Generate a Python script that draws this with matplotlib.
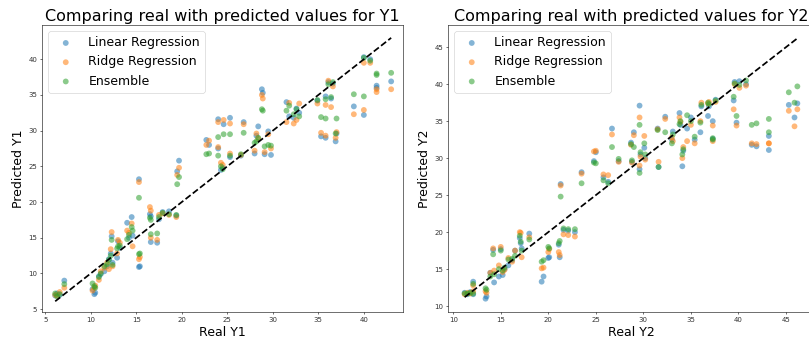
import numpy as np
import matplotlib
matplotlib.use('Agg')
import matplotlib.pyplot as plt

# Y1 (heating load) - real values and predictions
real_y1 = [6.1, 6.3, 6.6, 7.1, 10.2, 10.4, 10.5, 10.9, 11.1, 11.5, 11.8, 12.0, 12.2, 12.3,
           12.4, 12.9, 13.0, 13.2, 14.0, 14.2, 14.5, 14.6, 15.3, 15.3, 15.4, 16.5, 16.6, 16.6,
           17.3, 17.5, 17.9, 18.6, 19.4, 19.5, 19.7, 22.7, 23.0, 24.0, 24.0, 24.3, 24.6, 24.5,
           25.3, 25.3, 26.8, 26.5, 28.0, 28.2, 28.4, 28.8, 28.9, 29.1, 29.5, 29.8, 31.5, 31.8,
           32.3, 32.6, 32.9, 34.9, 35.3, 35.8, 35.8, 36.1, 36.4, 36.6, 36.9, 37.0, 38.9, 40.0,
           40.0, 40.7, 41.4, 41.4, 43.0]
lin_y1 = [6.9, 7.2, 7.0, 9.0, 7.8, 7.1, 7.3, 9.6, 9.9, 10.3, 11.0, 12.0, 12.8, 15.2,
          11.5, 12.2, 14.5, 13.6, 17.1, 15.0, 17.9, 15.3, 23.2, 10.9, 11.0, 18.3, 18.0, 14.4,
          14.3, 17.6, 18.6, 18.7, 18.1, 24.3, 25.8, 28.7, 28.0, 31.6, 27.5, 24.5, 30.9, 24.8,
          31.8, 26.3, 31.2, 26.5, 26.8, 29.3, 30.6, 35.8, 35.3, 26.7, 29.9, 26.6, 34.0, 32.0,
          31.8, 33.1, 32.5, 34.2, 29.2, 29.0, 34.8, 36.8, 34.5, 36.6, 28.5, 29.6, 33.4, 32.2,
          40.3, 40.0, 36.3, 36.0, 36.9]
ridge_y1 = [7.0, 6.9, 7.4, 8.0, 7.6, 8.0, 8.3, 9.1, 10.3, 10.8, 11.5, 10.6, 13.4, 15.8,
            11.0, 12.8, 14.7, 14.3, 16.0, 15.7, 17.0, 13.8, 22.8, 12.0, 12.3, 19.3, 18.8, 15.0,
            14.7, 18.2, 18.4, 18.2, 17.9, 23.8, 24.8, 28.0, 28.6, 31.2, 27.7, 25.5, 31.5, 25.2,
            31.0, 26.8, 30.9, 26.6, 27.2, 29.6, 28.9, 35.0, 34.5, 27.0, 29.5, 27.5, 31.2, 33.9,
            31.0, 31.5, 33.8, 33.8, 29.7, 29.3, 33.6, 37.0, 33.3, 36.2, 29.0, 29.8, 32.3, 32.9,
            39.5, 39.5, 35.4, 35.8, 35.8]
ens_y1 = [7.2, 6.8, 7.1, 8.5, 8.6, 8.2, 8.0, 9.5, 10.0, 11.0, 11.3, 11.9, 12.5, 14.7,
          11.2, 13.5, 13.8, 13.9, 14.8, 15.4, 16.5, 16.0, 20.6, 12.7, 12.8, 17.8, 17.5, 15.5,
          15.6, 17.9, 18.5, 18.3, 18.2, 22.5, 23.5, 26.7, 26.8, 29.1, 26.5, 25.0, 29.5, 24.6,
          29.5, 26.5, 29.7, 26.7, 28.3, 28.5, 29.0, 33.0, 32.8, 27.8, 28.0, 27.9, 32.8, 33.5,
          32.3, 33.0, 32.0, 34.3, 31.9, 31.7, 34.4, 36.5, 34.7, 36.8, 29.6, 31.7, 35.1, 34.8,
          40.2, 39.8, 37.8, 38.0, 38.1]

# Y2 (cooling load) - real values and predictions
real_y2 = [11.2, 11.5, 11.8, 12.1, 12.1, 13.4, 13.5, 13.9, 14.2, 14.3, 14.8, 15.0, 15.2, 15.4,
           15.8, 16.2, 16.5, 17.0, 17.1, 17.2, 18.0, 19.3, 19.5, 20.0, 20.1, 21.1, 21.2, 21.3,
           21.6, 22.1, 22.8, 23.5, 24.8, 25.0, 25.8, 26.3, 26.7, 27.4, 28.7, 28.8, 29.0, 29.6,
           29.6, 29.7, 30.1, 30.2, 31.5, 31.6, 32.3, 33.0, 33.1, 33.8, 33.9, 34.1, 34.2, 34.6,
           35.0, 35.4, 36.0, 36.1, 36.8, 36.9, 37.3, 37.3, 37.6, 39.5, 39.6, 39.8, 40.1, 40.8,
           41.4, 41.9, 43.2, 43.2, 45.3, 45.9, 46.2]
lin_y2 = [11.8, 11.6, 11.9, 13.3, 11.6, 11.0, 11.3, 14.5, 17.6, 13.2, 14.0, 17.7, 14.2, 15.0,
          15.5, 16.2, 17.5, 19.2, 18.5, 17.8, 19.8, 13.3, 14.0, 16.5, 16.6, 18.3, 16.6, 26.5,
          20.3, 20.2, 20.0, 28.1, 29.6, 30.8, 27.4, 26.8, 34.0, 29.6, 32.1, 29.5, 33.5, 37.1,
          28.5, 30.5, 31.4, 30.0, 34.0, 28.8, 35.6, 32.5, 33.6, 36.1, 34.5, 28.9, 31.0, 34.0,
          35.5, 32.5, 33.5, 37.0, 35.7, 37.0, 35.0, 32.6, 37.9, 37.8, 40.3, 34.8, 40.4, 40.0,
          31.8, 31.6, 31.1, 33.0, 37.2, 35.5, 37.4]
ridge_y2 = [11.6, 11.8, 11.7, 12.8, 12.0, 12.0, 11.8, 14.5, 17.8, 14.8, 15.5, 18.0, 14.6, 14.9,
            16.5, 16.0, 17.5, 20.0, 19.9, 16.6, 19.3, 15.1, 15.2, 17.3, 17.7, 17.3, 16.9, 26.3,
            19.7, 19.6, 19.4, 27.9, 30.9, 31.0, 27.8, 27.7, 33.2, 29.5, 31.8, 29.4, 33.1, 35.5,
            29.0, 30.2, 33.0, 29.8, 33.9, 29.5, 35.3, 32.8, 32.3, 35.5, 34.9, 30.0, 31.5, 32.3,
            34.5, 32.0, 35.0, 37.5, 37.4, 37.6, 34.4, 32.3, 37.6, 36.6, 40.0, 34.4, 39.5, 39.8,
            32.0, 31.9, 32.0, 32.0, 36.4, 34.3, 36.6]
ens_y2 = [11.7, 11.7, 11.8, 13.0, 11.7, 12.4, 12.2, 14.0, 17.0, 14.3, 15.0, 17.5, 14.8, 15.2,
          16.3, 16.4, 16.8, 19.5, 18.7, 17.5, 19.0, 16.0, 16.2, 18.0, 17.8, 18.5, 18.8, 24.8,
          20.5, 20.4, 20.4, 26.6, 29.4, 29.3, 27.0, 26.6, 31.5, 29.9, 31.9, 29.7, 31.5, 34.5,
          28.0, 30.8, 32.0, 30.5, 33.8, 28.8, 33.5, 32.0, 33.2, 34.6, 35.0, 30.5, 31.2, 35.8,
          35.0, 32.9, 34.8, 37.2, 37.5, 37.3, 32.5, 32.7, 37.8, 38.3, 40.1, 35.7, 39.9, 40.5,
          34.5, 34.7, 35.3, 33.5, 38.9, 37.5, 39.7]

labels = ['Linear Regression', 'Ridge Regression', 'Ensemble']
colors = ['#1f77b4', '#ff7f0e', '#2ca02c']

fig = plt.figure(figsize=(16.18, 6.86), dpi=50)
ax1 = fig.add_axes([42 / 809, 31 / 343, 361 / 809, 287 / 343])
ax2 = fig.add_axes([448 / 809, 31 / 343, 366 / 809, 287 / 343])

panels = [
    (ax1, real_y1, [lin_y1, ridge_y1, ens_y1], 'Y1', (4.65, 44.3), (4.6, 44.8)),
    (ax2, real_y2, [lin_y2, ridge_y2, ens_y2], 'Y2', (9.45, 47.95), (9.2, 48.0)),
]

for ax, real, preds, name, xlim, ylim in panels:
    for pred, lab, col in zip(preds, labels, colors):
        ax.scatter(real, pred, s=70, alpha=0.55, color=col, label=lab, edgecolors='none')
    lo, hi = min(real), max(real)
    ax.plot([lo, hi], [lo, hi], 'k--', lw=2.5)
    ax.set_xlim(*xlim)
    ax.set_ylim(*ylim)
    ax.set_title('Comparing real with predicted values for ' + name, fontsize=23)
    ax.set_xlabel('Real ' + name, fontsize=18)
    ax.set_ylabel('Predicted ' + name, fontsize=18)
    ax.tick_params(labelcolor='#333333')
    ax.legend(loc='upper left', fontsize=18)

fig.savefig('out.png', dpi=50)
